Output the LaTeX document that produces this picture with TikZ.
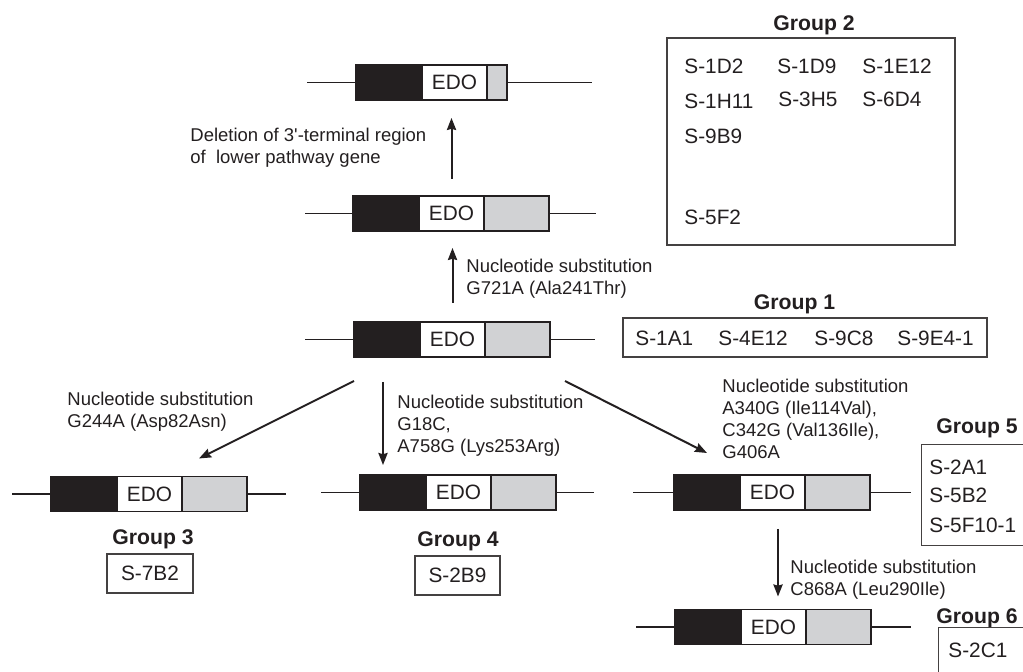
\documentclass[tikz,border=0pt]{standalone}
\usepackage{fontspec}
\setmainfont{Liberation Sans}
\usetikzlibrary{positioning,calc,arrows.meta}
\definecolor{edoblack}{HTML}{231F20}
\definecolor{edogrey}{HTML}{D1D2D4}
\tikzset{
  blk/.style={draw=edoblack, fill=edoblack, line width=0.65pt, minimum width=33pt,
    minimum height=17.5pt, inner sep=0pt, outer sep=0pt},
  edo/.style={draw=edoblack, fill=white, line width=0.65pt, minimum width=32.5pt,
    minimum height=17.5pt, inner sep=0pt, outer sep=0pt, font=\fontsize{10.4}{12}\selectfont},
  gry/.style={draw=edoblack, fill=edogrey, line width=0.65pt, minimum width=32.5pt,
    minimum height=17.5pt, inner sep=0pt, outer sep=0pt},
  wire/.style={line width=0.6pt, draw=edoblack},
  flow/.style={-{Stealth[length=6pt,width=4.6pt,inset=0.6pt]}, line width=1pt, draw=edoblack},
  note/.style={font=\fontsize{9.25}{11}\selectfont, align=left, inner sep=0pt, anchor=west},
  grp/.style={font=\bfseries\fontsize{10.6}{12}\selectfont, inner sep=0pt},
  grpbox/.style={draw=edoblack!85, line width=0.65pt, inner sep=0pt,
    font=\fontsize{10.4}{12}\selectfont},
  strain/.style={font=\fontsize{10.4}{12}\selectfont, inner sep=0pt, anchor=west},
}
% #1 name, #2 x of black part, #3 y, #4 grey width, #5/#6 left/right wire
\newcommand{\genebar}[6]{%
  \node[blk, anchor=west] (#1b) at (#2,#3) {};
  \node[edo, right=0pt of #1b] (#1e) {EDO};
  \node[gry, minimum width=#4, right=0pt of #1e] (#1g) {};
  \coordinate (#1l) at ($(#1b.west)+(-#5,0)$);
  \coordinate (#1r) at ($(#1g.east)+(#6,0)$);
  \draw[wire] (#1l) -- (#1b.west);
  \draw[wire] (#1g.east) -- (#1r);
}

\begin{document}
\begin{tikzpicture}[x=0.5pt, y=-0.5pt, color=edoblack]
  \useasboundingbox (0,0) rectangle (1023,672);
  \clip (0,0) rectangle (1023,672);

  % gene constructs
  \genebar{gA}{356}{82.5}{10pt}{49}{85}
  \genebar{gB}{353}{213.5}{32.5pt}{48}{47}
  \genebar{gC}{354}{339.5}{32.5pt}{49}{45}
  \genebar{gD}{51}{494}{32.5pt}{39}{39}
  \genebar{gE}{360}{492.5}{32.5pt}{39}{38}
  \genebar{gF}{674}{492.5}{32.5pt}{41}{41}
  \genebar{gG}{675}{627}{32.5pt}{39}{40}

  % arrows
  \draw[flow, shorten <=8.5pt, shorten >=9pt] (gBe.north) -- (gBe.north |- gAe.south);
  \draw[flow, shorten <=9.5pt, shorten >=8.5pt] (gCe.north) -- (gCe.north |- gBe.south);
  \draw[flow] ([yshift=-12pt]gCb.south west) -- ([xshift=8.5pt,yshift=9pt]gDg.north west);
  \draw[flow, shorten >=5pt] ([xshift=-2pt,yshift=-12.5pt]gCb.south)
    -- ($(gCb.south |- gEb.north)+(-2pt,0)$);
  \draw[flow] ([xshift=7.5pt,yshift=-12pt]gCg.south east)
    -- ([xshift=16.5pt,yshift=11pt]gFb.north west);
  \draw[flow, shorten >=6.5pt] ([xshift=2.75pt,yshift=-9.5pt]gFe.south)
    -- ($(gFe.south |- gGe.north)+(2.75pt,0)$);

  % mutation notes
  \node[note] (delnote) at (190,148) {Deletion of 3\textquotesingle-terminal region\\of\ \ lower pathway gene};
  \node[note] (subBA) at (466,279) {Nucleotide substitution\\G721A (Ala241Thr)};
  \node[note] (subCD) at (67,412) {Nucleotide substitution\\G244A (Asp82Asn)};
  \node[note] (subCE) at (397,426) {Nucleotide substitution\\G18C,\\A758G (Lys253Arg)};
  \node[note] (subCF) at (722,419) {Nucleotide substitution\\A340G (Ile114Val),\\C342G (Val136Ile),\\G406A};
  \node[note] (subFG) at (790,580) {Nucleotide substitution\\C868A (Leu290Ile)};

  % Group 2
  \node[grp] (g2title) at (814,25) {Group 2};
  \node[grpbox, minimum width=144pt, minimum height=103.5pt] (g2box) at (811,141.5) {};
  \node[strain] (s1d2) at (684,66) {S-1D2};
  \node[strain] (s1d9) at (777,66) {S-1D9};
  \node[strain] (s1e12) at (862,66) {S-1E12};
  \node[strain] (s1h11) at (684,101) {S-1H11};
  \node[strain] (s3h5) at (778,99) {S-3H5};
  \node[strain] (s6d4) at (862,99) {S-6D4};
  \node[strain] (s9b9) at (684,136) {S-9B9};
  \node[strain] (s5f2) at (684,217) {S-5F2};

  % Group 1
  \node[grp] (g1title) at (794.5,304) {Group 1};
  \node[grpbox, minimum width=182pt, minimum height=19.5pt] (g1box) at (805,337.5) {};
  \node[strain] (s1a1) at (635,338) {S-1A1};
  \node[strain] (s4e12) at (718,338) {S-4E12};
  \node[strain] (s9c8) at (814,338) {S-9C8};
  \node[strain] (s9e41) at (897,338) {S-9E4-1};

  % Groups 3 and 4
  \node[grp] (g3title) at (153,539) {Group 3};
  \node[grpbox, minimum width=43pt, minimum height=19.5pt] (g3box) at (150,573.5) {S-7B2};
  \node[grp] (g4title) at (458,541) {Group 4};
  \node[grpbox, minimum width=42.5pt, minimum height=19.5pt] (g4box) at (457.5,575.5) {S-2B9};

  % Groups 5 and 6 (cut at the right edge)
  \node[grp] (g5title) at (977,428) {Group 5};
  \node[grpbox, anchor=north west, minimum width=75pt, minimum height=50.5pt] (g5box) at (921,444) {};
  \node[strain] (s2a1) at (929,467) {S-2A1};
  \node[strain] (s5b2) at (929,495) {S-5B2};
  \node[strain] (s5f101) at (929,525) {S-5F10-1};
  \node[grp] (g6title) at (977,618) {Group 6};
  \node[grpbox, anchor=north west, minimum width=60pt, minimum height=40pt] (g6box) at (938,627) {};
  \node[strain] (s2c1) at (948,650) {S-2C1};
\end{tikzpicture}
\end{document}
